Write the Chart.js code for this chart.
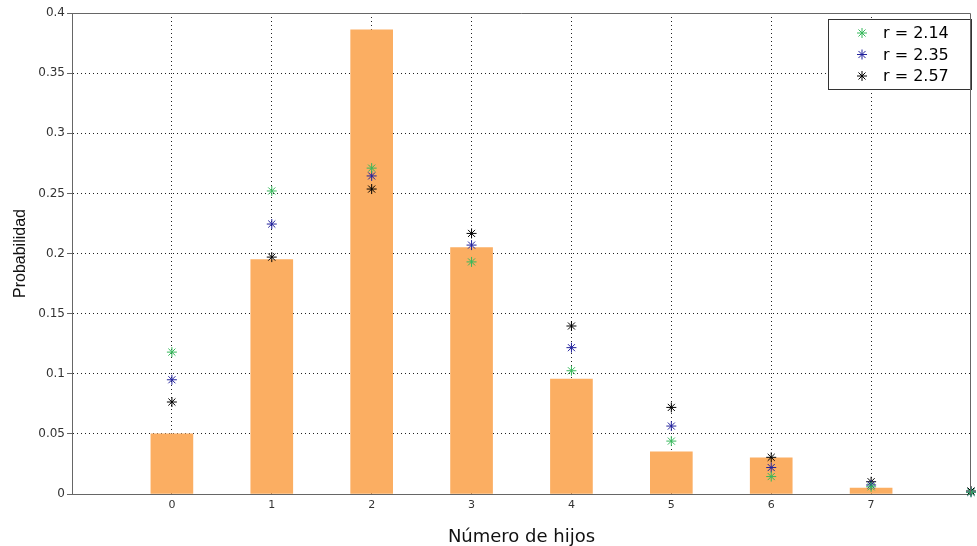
<!DOCTYPE html>
<html>
<head>
<meta charset="utf-8">
<script src="https://cdn.jsdelivr.net/npm/chart.js@4.4.1/dist/chart.umd.min.js"></script>
<style>
  html, body { margin: 0; padding: 0; background: #ffffff; }
  #c { display: block; }
</style>
</head>
<body>
<canvas id="c" width="977" height="546"></canvas>
<script>
// ---- Data ----
const categories = [0, 1, 2, 3, 4, 5, 6, 7];
const xTickLabels = ['0', '1', '2', '3', '4', '5', '6', '7'];
const observed = [0.05, 0.195, 0.386, 0.205, 0.0955, 0.035, 0.03, 0.005];
const modelX = [0, 1, 2, 3, 4, 5, 6, 7, 8];
const r214 = [0.118, 0.252, 0.271, 0.193, 0.1025, 0.044, 0.0145, 0.006, 0.0015];
const r235 = [0.095, 0.2245, 0.2645, 0.207, 0.1217, 0.0565, 0.022, 0.0075, 0.0015];
const r257 = [0.0765, 0.197, 0.2536, 0.2167, 0.1397, 0.072, 0.0305, 0.0102, 0.0025];
const seriesLabels = ['r = 2.14', 'r = 2.35', 'r = 2.57'];
const yTickValues = [0, 0.05, 0.1, 0.15, 0.2, 0.25, 0.3, 0.35, 0.4];

const colGreen = '#35b85a';
const colBlue = '#22229c';
const colBlack = '#000000';
const barColor = '#fbae62';

const toXY = (xs, ys) => xs.map((x, i) => ({ x: x, y: ys[i] }));

const legendBox = {
  id: 'legendBox',
  afterDatasetsDraw(chart) {
    const ctx = chart.ctx;
    const area = chart.chartArea;
    const x0 = area.right - 146, y0 = area.top + 6, w = 143, h = 70;
    ctx.save();
    ctx.fillStyle = '#ffffff';
    ctx.fillRect(x0 + 3, y0, w, h);
    ctx.strokeStyle = '#333333';
    ctx.lineWidth = 1;
    ctx.strokeRect(x0 + 3.5, y0 + 0.5, w, h);
    const items = chart.data.datasets.filter(d => d.type === 'scatter');
    items.forEach((d, i) => {
      const cy = y0 + 14 + i * 21.5;
      const cx = x0 + 37;
      ctx.strokeStyle = d.pointBorderColor;
      ctx.lineWidth = 1;
      const r = 5;
      ctx.beginPath();
      for (let k = 0; k < 4; k++) {
        const a = k * Math.PI / 4;
        ctx.moveTo(cx - r * Math.cos(a), cy - r * Math.sin(a));
        ctx.lineTo(cx + r * Math.cos(a), cy + r * Math.sin(a));
      }
      ctx.stroke();
      ctx.fillStyle = '#000000';
      ctx.font = '16px "DejaVu Sans"';
      ctx.textAlign = 'left';
      ctx.textBaseline = 'middle';
      ctx.fillText(d.label, x0 + 58, cy + 1);
    });
    ctx.restore();
  }
};

const frameBox = {
  id: 'frameBox',
  afterDraw(chart) {
    const ctx = chart.ctx;
    const a = chart.chartArea;
    ctx.save();
    ctx.strokeStyle = '#666666';
    ctx.lineWidth = 1;
    ctx.beginPath();
    ctx.moveTo(a.left, a.top + 0.5);
    ctx.lineTo(a.right - 0.5, a.top + 0.5);
    ctx.lineTo(a.right - 0.5, a.bottom);
    ctx.stroke();
    ctx.restore();
  }
};

new Chart(document.getElementById('c'), {
  type: 'bar',
  data: {
    datasets: [
      {
        type: 'scatter', label: seriesLabels[0], data: toXY(modelX, r214),
        pointStyle: 'star', pointRadius: 5, pointBorderWidth: 1,
        pointBorderColor: colGreen, pointBackgroundColor: colGreen, order: 1, clip: 6
      },
      {
        type: 'scatter', label: seriesLabels[1], data: toXY(modelX, r235),
        pointStyle: 'star', pointRadius: 5, pointBorderWidth: 1,
        pointBorderColor: colBlue, pointBackgroundColor: colBlue, order: 1, clip: 6
      },
      {
        type: 'scatter', label: seriesLabels[2], data: toXY(modelX, r257),
        pointStyle: 'star', pointRadius: 5, pointBorderWidth: 1,
        pointBorderColor: colBlack, pointBackgroundColor: colBlack, order: 1, clip: 6
      },
      {
        type: 'bar', label: 'Observado', data: toXY(categories, observed),
        backgroundColor: barColor, borderWidth: 0, barThickness: 42, order: 2
      }
    ]
  },
  options: {
    responsive: false,
    animation: false,
    devicePixelRatio: 1,
    layout: { padding: { top: 13, right: 3, left: 0, bottom: 0 } },
    plugins: {
      legend: { display: false },
      tooltip: { enabled: false }
    },
    scales: {
      x: {
        type: 'linear',
        min: -1, max: 8,
        offset: false,
        afterFit: s => { s.height = 52; },
        afterBuildTicks: s => { s.ticks = [-1, 0, 1, 2, 3, 4, 5, 6, 7, 8].map(v => ({ value: v })); },
        ticks: {
          autoSkip: false,
          maxRotation: 0,
          padding: 5,
          color: '#333333',
          font: { family: 'DejaVu Sans', size: 11 },
          callback: v => (categories.indexOf(v) >= 0 ? xTickLabels[categories.indexOf(v)] : '')
        },
        grid: {
          offset: false,
          drawTicks: false,
          color: c => (c.tick && (c.tick.value === -1 || c.tick.value === 8)) ? 'rgba(0,0,0,0)' : '#222222',
          lineWidth: 1
        },
        border: { display: true, color: '#666666', width: 1, dash: [1, 3] },
        title: {
          display: true,
          text: 'Número de hijos',
          color: '#111111',
          font: { family: 'DejaVu Sans', size: 18, lineHeight: 1 },
          padding: { top: 0, bottom: 0 }
        }
      },
      y: {
        min: 0, max: 0.4,
        afterFit: s => { s.width = 72; },
        afterBuildTicks: s => { s.ticks = yTickValues.map(v => ({ value: v })); },
        ticks: {
          padding: 2,
          color: '#333333',
          font: { family: 'DejaVu Sans', size: 12 },
          callback: v => String(Math.round(v * 100) / 100)
        },
        grid: {
          drawTicks: true,
          tickLength: 5,
          tickColor: '#666666',
          tickBorderDash: [],
          color: c => (c.tick && (c.tick.value === 0 || c.tick.value === 0.4)) ? 'rgba(0,0,0,0)' : '#222222',
          lineWidth: 1
        },
        border: { display: true, color: '#666666', width: 1, dash: [1, 3] },
        title: {
          display: true,
          text: 'Probabilidad',
          color: '#111111',
          font: { family: 'Liberation Sans', size: 16, lineHeight: 1.2 },
          padding: { top: 11, bottom: 0 }
        }
      }
    }
  },
  plugins: [legendBox, frameBox]
});
</script>
</body>
</html>
